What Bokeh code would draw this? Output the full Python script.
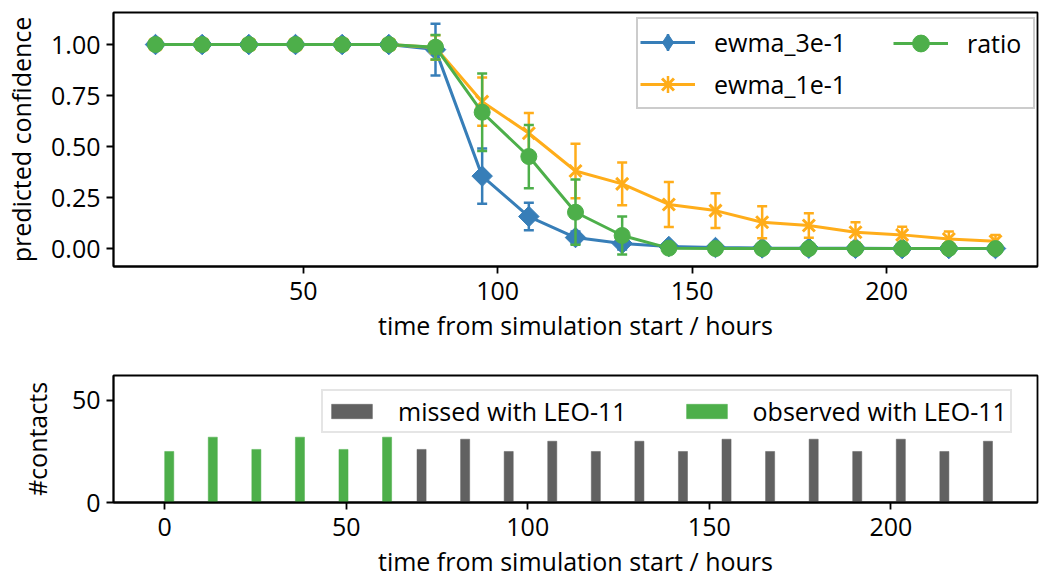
import numpy as np
from bokeh.plotting import figure
from bokeh.models import Legend, LegendItem, FixedTicker, NumeralTickFormatter, Range1d
from bokeh.layouts import column
from bokeh.embed import file_html
from bokeh.resources import INLINE

# ---------------- data ----------------
hours = [12, 24, 36, 48, 60, 72, 84, 96, 108, 120, 132, 144, 156, 168, 180, 192, 204, 216, 228]

ewma_3e1 = [1, 1, 1, 1, 1, 1, 0.975, 0.355, 0.157, 0.054, 0.025, 0.01, 0.005, 0.003, 0.002, 0.001, 0.0, 0.0, 0.0]
ewma_3e1_err = [0, 0, 0, 0, 0, 0, 0.127, 0.135, 0.067, 0.03, 0.03, 0.01, 0.005, 0.003, 0.002, 0.001, 0, 0, 0]

ewma_1e1 = [1, 1, 1, 1, 1, 1, 0.985, 0.72, 0.565, 0.38, 0.317, 0.216, 0.186, 0.129, 0.113, 0.08, 0.067, 0.047, 0.036]
ewma_1e1_err = [0, 0, 0, 0, 0, 0, 0.06, 0.118, 0.1, 0.134, 0.105, 0.11, 0.085, 0.078, 0.06, 0.049, 0.04, 0.036, 0.03]

ratio = [1, 1, 1, 1, 1, 1, 0.987, 0.668, 0.451, 0.178, 0.064, 0.002, 0, 0, 0, 0, 0, 0, 0]
ratio_err = [0, 0, 0, 0, 0, 0, 0.06, 0.19, 0.155, 0.16, 0.093, 0.003, 0, 0, 0, 0, 0, 0, 0]

observed_hours = [0, 12, 24, 36, 48, 60]
observed_counts = [25, 32, 26, 32, 26, 32]
missed_hours = [72, 84, 96, 108, 120, 132, 144, 156, 168, 180, 192, 204, 216, 228]
missed_counts = [26, 31, 25, 30, 25, 30, 25, 31, 25, 31, 25, 31, 25, 30]

conf_ticks = [0, 0.25, 0.5, 0.75, 1.0]
hour_ticks_top = [50, 100, 150, 200]
hour_ticks_bottom = [0, 50, 100, 150, 200]
count_ticks = [0, 50]

# ---------------- styles ----------------
FONT = "Open Sans"
FS = "25px"
BLUE = "#377eb8"
ORANGE = "#ffad1a"
GREEN = "#4daf4a"
GRAY = "#616161"
BAR_W = 2.5


def style_axes(p):
    p.xgrid.visible = False
    p.ygrid.visible = False
    p.outline_line_color = "black"
    p.outline_line_width = 1.8
    p.outline_line_alpha = 1
    for ax in (p.xaxis[0], p.yaxis[0]):
        ax.axis_line_color = "black"
        ax.axis_line_width = 1.8
        ax.major_tick_line_width = 1.8
        ax.major_tick_out = 7
        ax.major_tick_in = 0
        ax.minor_tick_line_color = None
        ax.major_label_text_font = FONT
        ax.major_label_text_font_size = FS
        ax.major_label_text_color = "black"
        ax.axis_label_text_font = FONT
        ax.axis_label_text_font_size = FS
        ax.axis_label_text_font_style = "normal"
        ax.axis_label_text_color = "black"
    p.xaxis.major_label_standoff = 8
    p.xaxis.axis_label_standoff = 5
    p.yaxis.major_label_standoff = 6
    p.yaxis.axis_label_standoff = 10


# ---------------- top figure ----------------
p1 = figure(frame_width=924, frame_height=254, output_backend="svg", toolbar_location=None,
            x_range=Range1d(1.2, 238.8), y_range=Range1d(-0.088, 1.157),
            min_border_left=113, min_border_right=3, min_border_top=12, min_border_bottom=94)
style_axes(p1)
p1.xaxis.ticker = FixedTicker(ticks=hour_ticks_top)
p1.yaxis.ticker = FixedTicker(ticks=conf_ticks)
p1.yaxis.formatter = NumeralTickFormatter(format="0.00")
p1.xaxis.axis_label = "time from simulation start / hours"
p1.yaxis.axis_label = "predicted confidence"

series = [
    ("ewma_3e-1", ewma_3e1, ewma_3e1_err, BLUE, "square", 14.5, np.pi / 4, "diamond"),
    ("ewma_1e-1", ewma_1e1, ewma_1e1_err, ORANGE, "x", 17, 0, "x"),
    ("ratio", ratio, ratio_err, GREEN, "circle", 16, 0, "circle"),
]

items = []
for name, vals, errs, col, mk, sz, ang, lmk in series:
    v = np.array(vals, dtype=float)
    e = np.array(errs, dtype=float)
    x = np.array(hours, dtype=float)
    p1.segment(x0=x, y0=v - e, x1=x, y1=v + e, line_color=col, line_width=2.5)
    p1.scatter(x=x, y=v + e, marker="dash", size=10, line_color=col, line_width=2.5)
    p1.scatter(x=x, y=v - e, marker="dash", size=10, line_color=col, line_width=2.5)
    ln = p1.line(x=x, y=v, line_color=col, line_width=3)
    if mk == "x":
        kw = dict(line_color=col, line_width=3)
    else:
        kw = dict(fill_color=col, line_color=col, line_width=1)
    p1.scatter(x=x, y=v, marker=mk, size=sz, angle=ang, **kw)
    # legend-only glyphs (no data drawn in the plot)
    leg_err = p1.scatter(x=[np.nan], y=[np.nan], marker="cross", size=20,
                         line_color=col, line_width=2.5)
    leg_mk = p1.scatter(x=[np.nan], y=[np.nan], marker=lmk, size=16, **kw)
    items.append(LegendItem(label=name, renderers=[ln, leg_err, leg_mk]))


def legend_common(lg):
    lg.label_text_font = FONT
    lg.label_text_font_size = FS
    lg.label_text_color = "black"
    lg.glyph_width = 55
    lg.glyph_height = 42
    lg.label_standoff = 19
    lg.label_height = 30
    lg.spacing = -6
    lg.background_fill_alpha = 0.8


legA = Legend(items=items[:2], location=(523, 157), orientation="vertical")
legend_common(legA)
legA.padding = 2
legA.label_width = 317
legA.border_line_color = "#cccccc"
legA.border_line_width = 2
legA.border_line_alpha = 1
p1.add_layout(legA)

legB = Legend(items=items[2:], location=(780, 202), orientation="vertical")
legend_common(legB)
legB.padding = 0
legB.border_line_color = None
legB.background_fill_alpha = 0
p1.add_layout(legB)

# ---------------- bottom figure ----------------
p2 = figure(frame_width=924, frame_height=127, output_backend="svg", toolbar_location=None,
            x_range=Range1d(-14.1, 240.4), y_range=Range1d(0, 62.2),
            min_border_left=113, min_border_right=3, min_border_top=15, min_border_bottom=77)
style_axes(p2)
p2.yaxis.axis_label_standoff = 15
p2.xaxis.ticker = FixedTicker(ticks=hour_ticks_bottom)
p2.yaxis.ticker = FixedTicker(ticks=count_ticks)
p2.xaxis.axis_label = "time from simulation start / hours"
p2.yaxis.axis_label = "#contacts"

mh = np.array(missed_hours, dtype=float)
oh = np.array(observed_hours, dtype=float)
r_missed = p2.quad(left=mh - BAR_W, right=mh, bottom=0, top=missed_counts,
                   fill_color=GRAY, line_color=GRAY, line_width=0.5)
r_obs = p2.quad(left=oh, right=oh + BAR_W, bottom=0, top=observed_counts,
                fill_color=GREEN, line_color=GREEN, line_width=0.5)

leg2 = Legend(items=[LegendItem(label="missed with LEO-11", renderers=[r_missed]),
                     LegendItem(label="observed with LEO-11", renderers=[r_obs])],
              location=(208, 69), orientation="horizontal")
leg2.label_text_font = FONT
leg2.label_text_font_size = FS
leg2.label_text_color = "black"
leg2.glyph_width = 51
leg2.glyph_height = 18
leg2.label_standoff = 21
leg2.spacing = 54
leg2.padding = 3
leg2.border_line_color = "#cccccc"
leg2.border_line_width = 2
leg2.background_fill_alpha = 0.8
p2.add_layout(leg2)

layout = column(p1, p2, spacing=0)
open("out.html", "w").write(file_html(layout, INLINE))
